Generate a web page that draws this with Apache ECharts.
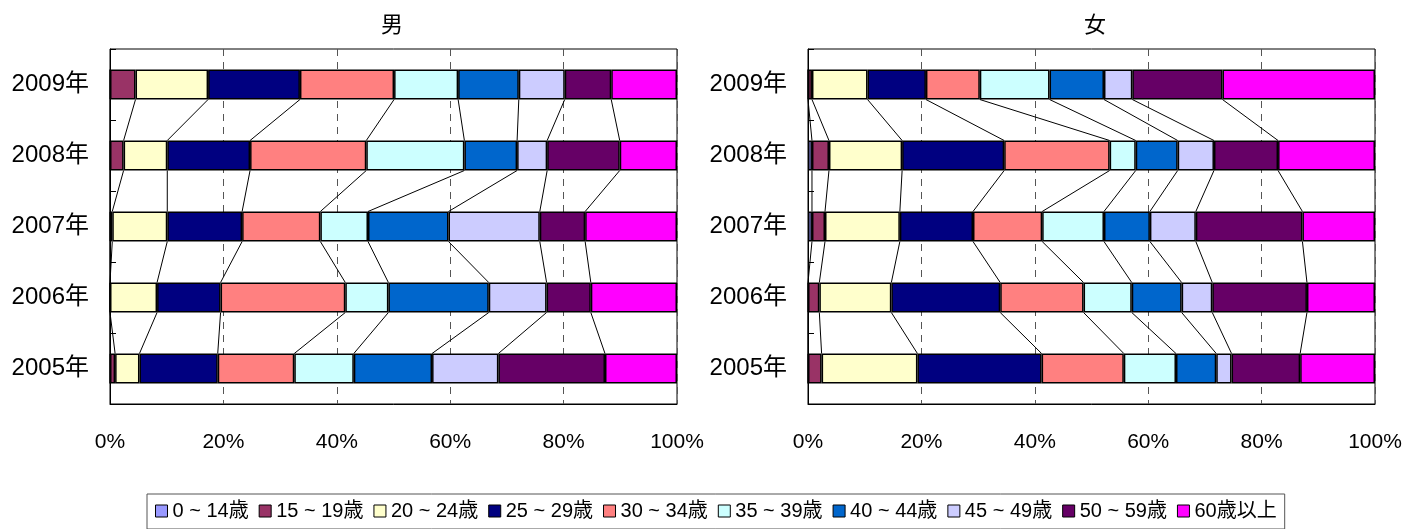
<!DOCTYPE html>
<html>
<head>
<meta charset="utf-8">
<script src="https://cdn.jsdelivr.net/npm/echarts@6/dist/echarts.min.js"></script>
<style>
  html, body { margin: 0; padding: 0; background: #fff; }
  #chart { width: 1419px; height: 529px; }
</style>
</head>
<body>
<div id="chart"></div>
<script>
// 年（下から上へ）
const years = ['2005年', '2006年', '2007年', '2008年', '2009年'];
const ageGroups = ['0 ~ 14歳', '15 ~ 19歳', '20 ~ 24歳', '25 ~ 29歳', '30 ~ 34歳',
  '35 ~ 39歳', '40 ~ 44歳', '45 ~ 49歳', '50 ~ 59歳', '60歳以上'];
const colors = ['#9999FF', '#993366', '#FFFFCC', '#000080', '#FF8080',
  '#CCFFFF', '#0066CC', '#CCCCFF', '#660066', '#FF00FF'];

// 男：年ごとの構成比 (%)，ageGroups の順
const male2005 = [0, 0.9, 4.3, 13.8, 13.5, 10.5, 13.8, 11.7, 18.8, 12.7];
const male2006 = [0, 0, 8.3, 11.2, 22.0, 7.6, 17.7, 10.2, 7.8, 15.2];
const male2007 = [0, 0.4, 9.7, 13.2, 13.8, 8.4, 14.2, 16.1, 8.0, 16.2];
const male2008 = [0, 2.4, 7.7, 14.6, 20.5, 17.3, 9.3, 5.3, 12.8, 10.1];
const male2009 = [0, 4.5, 12.8, 16.2, 16.6, 11.3, 10.7, 8.1, 8.2, 11.6];

// 女
const female2005 = [0, 2.4, 16.9, 21.9, 14.5, 9.2, 7.1, 2.7, 12.1, 13.2];
const female2006 = [0, 2.0, 12.7, 19.2, 14.7, 8.5, 8.8, 5.4, 16.7, 12.0];
const female2007 = [0.7, 2.3, 13.2, 12.9, 12.2, 10.9, 8.1, 8.1, 18.8, 12.8];
const female2008 = [0.7, 3.0, 12.9, 18.0, 18.6, 4.6, 7.4, 6.4, 11.3, 17.1];
const female2009 = [0, 0.7, 9.8, 10.3, 9.5, 12.3, 9.6, 5.0, 15.9, 26.9];

const maleRows = [male2005, male2006, male2007, male2008, male2009];
const femaleRows = [female2005, female2006, female2007, female2008, female2009];

const FONT = '"Liberation Sans", "Noto Sans CJK JP", sans-serif';
const BAR_W = 30;

// 区切り線（隣り合う年の累積値を結ぶ）
function connectorData(rows) {
  const out = [];
  for (let i = 0; i < rows.length - 1; i++) {
    let lo = 0, hi = 0;
    for (let k = 0; k < ageGroups.length - 1; k++) {
      lo += rows[i][k];
      hi += rows[i + 1][k];
      out.push([lo, i, hi, i + 1]);
    }
  }
  return out;
}

function renderConnector(params, api) {
  const p1 = api.coord([api.value(0), api.value(1)]);
  const p2 = api.coord([api.value(2), api.value(3)]);
  const h = BAR_W / 2;
  return {
    type: 'line',
    shape: { x1: p1[0], y1: p1[1] - h, x2: p2[0], y2: p2[1] + h },
    style: { stroke: '#000', lineWidth: 1 }
  };
}

const grids = [
  { left: 110, top: 49, width: 567, height: 355 },
  { left: 808, top: 49, width: 567, height: 355 }
].map(g => Object.assign(g, { show: true, borderColor: '#000', borderWidth: 1, backgroundColor: '#fff' }));

const xAxes = [0, 1].map(i => ({
  type: 'value',
  gridIndex: i,
  min: 0,
  max: 100,
  interval: 20,
  axisLine: { show: true, lineStyle: { color: '#000' } },
  axisTick: { show: false },
  axisLabel: { formatter: '{value}%', color: '#000', fontSize: 21, margin: 28, fontFamily: FONT },
  splitLine: { show: true, lineStyle: { color: '#555', type: [7, 6], width: 1 } }
}));

const yAxes = [0, 1].map(i => ({
  type: 'category',
  gridIndex: i,
  data: years,
  axisLine: { show: true, lineStyle: { color: '#000' } },
  axisTick: { show: true, inside: true, length: 6, lineStyle: { color: '#000' } },
  axisLabel: { color: '#000', fontSize: 24, margin: 21, fontFamily: FONT }
}));

function barSeries(rows, idx, stack) {
  return ageGroups.map((name, k) => ({
    name: name,
    type: 'bar',
    stack: stack,
    xAxisIndex: idx,
    yAxisIndex: idx,
    barWidth: BAR_W,
    itemStyle: { color: colors[k], borderColor: '#000', borderWidth: 1.5 },
    emphasis: { disabled: true },
    data: rows.map(r => r[k])
  }));
}

const series = [].concat(
  barSeries(maleRows, 0, 'male'),
  barSeries(femaleRows, 1, 'female'),
  [
    { type: 'custom', xAxisIndex: 0, yAxisIndex: 0, silent: true,
      encode: { x: [0, 2], y: [1, 3] }, renderItem: renderConnector, data: connectorData(maleRows) },
    { type: 'custom', xAxisIndex: 1, yAxisIndex: 1, silent: true,
      encode: { x: [0, 2], y: [1, 3] }, renderItem: renderConnector, data: connectorData(femaleRows) }
  ]
);

const chart = echarts.init(document.getElementById('chart'), null, { renderer: 'canvas' });
chart.setOption({
  animation: false,
  color: colors,
  textStyle: { fontFamily: FONT },
  title: [
    { text: '男', left: 387, top: 10, textAlign: 'center',
      textStyle: { fontSize: 22, fontWeight: 'normal', color: '#000', fontFamily: FONT } },
    { text: '女', left: 1090, top: 10, textAlign: 'center',
      textStyle: { fontSize: 22, fontWeight: 'normal', color: '#000', fontFamily: FONT } }
  ],
  legend: {
    data: ageGroups,
    left: 147,
    top: 494,
    icon: 'rect',
    itemWidth: 12,
    itemHeight: 12,
    itemGap: 10,
    padding: [7, 8, 8, 8],
    borderColor: '#555',
    borderWidth: 1,
    textStyle: { fontSize: 20, color: '#000', fontFamily: FONT },
    itemStyle: { borderColor: '#000', borderWidth: 1 }
  },
  grid: grids,
  xAxis: xAxes,
  yAxis: yAxes,
  series: series
});
</script>
</body>
</html>
